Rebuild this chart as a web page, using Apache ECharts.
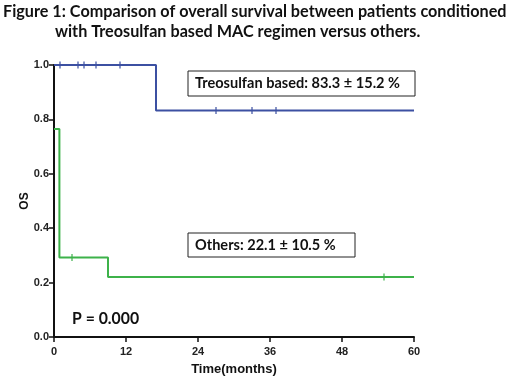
<!DOCTYPE html>
<html>
<head>
<meta charset="utf-8">
<script src="https://cdn.jsdelivr.net/npm/echarts@6/dist/echarts.min.js"></script>
<style>
  html, body { margin: 0; padding: 0; background: #fff; }
  #chart { width: 520px; height: 381px; }
</style>
</head>
<body>
<div id="chart"></div>
<script>
// x axis ticks (months)
const monthTicks = [0, 12, 24, 36, 48, 60];

// Kaplan-Meier steps: time of change and survival after it
const treoTimes = [0, 17, 60];
const treoSurv = [1.0, 0.833, 0.833];
const treoCensored = [1, 4, 5, 7, 11, 27, 33, 37];

const otherTimes = [0, 0.9, 9, 60];
const otherSurv = [0.765, 0.292, 0.221, 0.221];
const otherCensored = [3, 55];

const titleLines = [
  'Figure 1: Comparison of overall survival between patients conditioned',
  'with Treosulfan based MAC regimen versus others.'
];
const treoLabel = 'Treosulfan based: 83.3 \u00b1 15.2 %';
const otherLabel = 'Others: 22.1 \u00b1 10.5 %';
const pLabel = 'P = 0.000';

const BLUE = '#3c50a2';
const GREEN = '#3db24a';
const SANS = 'Lato, "Open Sans", sans-serif';

// survival value at time t from step arrays
function survAt(times, surv, t) {
  let v = surv[0];
  for (let i = 0; i < times.length; i++) {
    if (times[i] <= t) v = surv[i];
  }
  return v;
}

const chart = echarts.init(document.getElementById('chart'));

const stepData = (times, surv) => times.map((t, i) => [t, surv[i]]);
const censorData = (times, surv, cens) => cens.map(t => [t, survAt(times, surv, t)]);

// condensed bold text (stand-in for the narrow original face)
const label = (text, x, y, size, sx) => ({
  type: 'text', x: x, y: y, scaleX: sx,
  style: { text: text, fontFamily: SANS, fontWeight: 'bold', fontSize: size, fill: '#111', verticalAlign: 'middle' }
});

const option = {
  animation: false,
  backgroundColor: '#fff',
  grid: { left: 54, right: 106, top: 65, bottom: 42 },
  xAxis: {
    type: 'value',
    min: 0,
    max: 60,
    interval: 12,
    name: 'Time(months)',
    nameLocation: 'middle',
    nameGap: 26,
    nameMoveOverlap: false,
    nameTextStyle: { fontFamily: 'Liberation Sans', fontWeight: 'bold', fontSize: 13, color: '#111' },
    axisLine: { lineStyle: { color: '#111', width: 2 } },
    axisTick: { show: true, length: 5, lineStyle: { color: '#111', width: 1.5 } },
    axisLabel: {
      fontFamily: 'Liberation Sans', fontWeight: 'bold', fontSize: 11, color: '#222', margin: 9,
      formatter: v => monthTicks.includes(v) ? String(v) : ''
    },
    splitLine: { show: false }
  },
  yAxis: {
    type: 'value',
    min: 0,
    max: 1,
    interval: 0.2,
    name: 'OS',
    nameLocation: 'middle',
    nameGap: 23,
    nameMoveOverlap: false,
    nameRotate: 90,
    nameTextStyle: { fontFamily: 'Liberation Sans', fontWeight: 'bold', fontSize: 12, color: '#111' },
    axisLine: { show: true, lineStyle: { color: '#111', width: 2 } },
    axisTick: { show: true, length: 5, lineStyle: { color: '#111', width: 1.5 } },
    axisLabel: {
      fontFamily: 'Liberation Sans', fontWeight: 'bold', fontSize: 11, color: '#222', margin: 5,
      formatter: v => v.toFixed(1)
    },
    splitLine: { show: false }
  },
  graphic: [
    label(titleLines[0], 3, 12, 17, 0.953),
    label(titleLines[1], 55, 32, 17, 0.953),
    {
      type: 'group', x: 188, y: 71,
      children: [
        { type: 'rect', shape: { x: 0, y: 0, width: 227, height: 25 }, style: { fill: '#fff', stroke: '#222', lineWidth: 1 } },
        label(treoLabel, 7, 12.5, 15, 0.97)
      ]
    },
    {
      type: 'group', x: 188, y: 233,
      children: [
        { type: 'rect', shape: { x: 0, y: 0, width: 167, height: 24 }, style: { fill: '#fff', stroke: '#222', lineWidth: 1 } },
        label(otherLabel, 7, 12, 15, 0.97)
      ]
    },
    label(pLabel, 72, 319, 17, 0.93)
  ],
  series: [
    {
      name: 'Treosulfan based',
      type: 'line',
      step: 'end',
      data: stepData(treoTimes, treoSurv),
      symbol: 'none',
      lineStyle: { color: BLUE, width: 2 },
      z: 3
    },
    {
      name: 'Others',
      type: 'line',
      step: 'end',
      data: stepData(otherTimes, otherSurv),
      symbol: 'none',
      lineStyle: { color: GREEN, width: 2 },
      z: 3
    },
    {
      type: 'scatter',
      data: censorData(treoTimes, treoSurv, treoCensored),
      symbol: 'rect',
      symbolSize: [1.5, 7],
      itemStyle: { color: BLUE },
      z: 4
    },
    {
      type: 'scatter',
      data: censorData(otherTimes, otherSurv, otherCensored),
      symbol: 'rect',
      symbolSize: [1.5, 7],
      itemStyle: { color: GREEN },
      z: 4
    }
  ]
};

chart.setOption(option);
</script>
</body>
</html>
